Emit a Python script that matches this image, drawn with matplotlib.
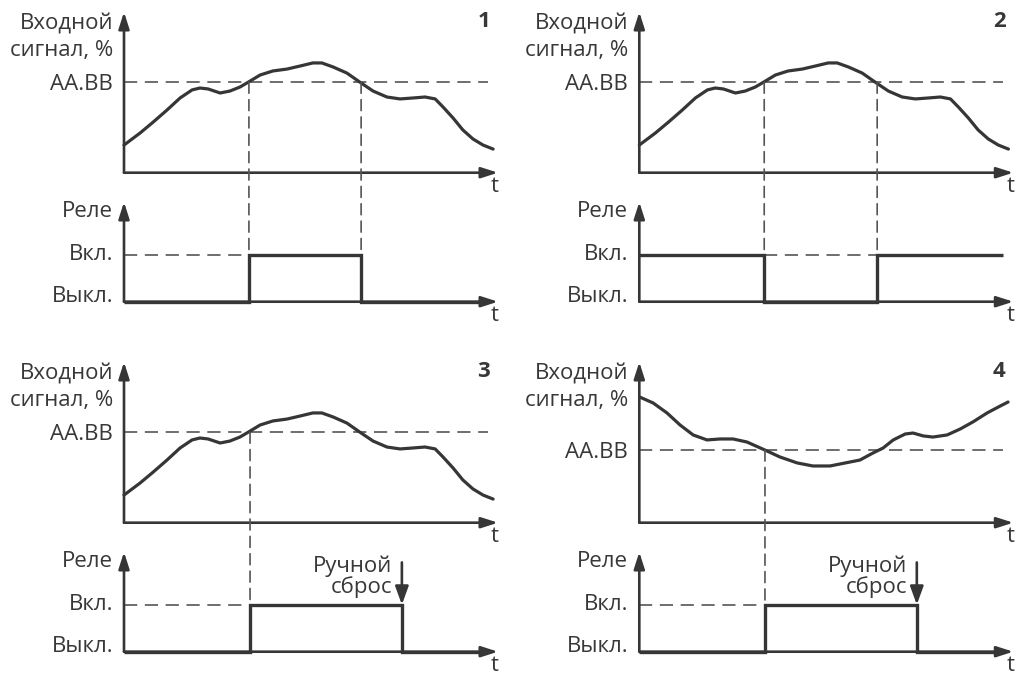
import matplotlib
matplotlib.use('Agg')
import matplotlib.pyplot as plt
from matplotlib.patches import ConnectionPatch
from matplotlib.transforms import offset_copy

plt.rcParams['font.family'] = ['Open Sans', 'DejaVu Sans']
plt.rcParams['lines.scale_dashes'] = False

# ---------------- data ----------------
# input signal used in panels 1-3 (time, %)
t_sig = [0, 4.3, 7.8, 11.5, 15.0, 18.2, 20.3, 22.5, 25.7, 28.3, 31.0, 33.2, 36.4,
         39.8, 43.6, 47.1, 50.5, 52.9, 55.9, 59.6, 63.1, 66.6, 70.3, 73.8, 77.3,
         80.5, 83.2, 85.3, 88.0, 90.6, 93.3, 96.0, 98.7]
v_sig = [17.2, 24.7, 31.5, 39.0, 46.5, 51.5, 52.7, 52.1, 49.6, 50.8, 53.3, 56.3, 60.8,
         63.3, 64.5, 66.4, 68.3, 68.3, 65.8, 62.0, 56.3, 50.8, 47.1, 45.9, 46.5,
         47.1, 45.9, 40.9, 34.0, 26.6, 21.0, 17.2, 14.7]
# input signal of panel 4
t_sig4 = [0.2, 3.7, 7.4, 10.9, 14.4, 18.1, 21.6, 25.1, 28.8, 33.6, 37.6, 42.2, 46.4,
          51.0, 53.6, 59.0, 62.5, 65.2, 67.9, 71.1, 73.2, 75.9, 78.5, 82.3, 85.8,
          89.2, 93.0, 96.5, 98.6]
v_sig4 = [78.1, 74.5, 68.3, 60.8, 54.6, 51.5, 52.1, 52.1, 50.2, 45.2, 40.9, 37.2, 35.3,
          35.3, 36.5, 39.0, 43.4, 46.5, 51.5, 55.2, 55.8, 54.0, 53.3, 54.6, 58.3,
          62.7, 68.3, 72.6, 75.1]
thresholds = [56.3, 56.3, 56.3, 45.2]
threshold_end = 97.3

# relay states: edges (time) and state values (0 = Выкл., 1 = Вкл.)
relay_edges = [[0, 33.4, 63.4, 97.0],
               [0, 33.4, 63.6, 97.3],
               [0, 33.7, 74.3, 97.0],
               [0, 33.6, 74.2, 97.0]]
relay_states = [[0, 1, 0], [1, 0, 1], [0, 1, 0], [0, 1, 0]]
# threshold crossings linked to relay switching
crossings = [[33.4, 63.4], [33.4, 63.6], [33.7], [33.6]]
# manual reset moments (None if absent)
manual_reset = [None, None, 74.3, 74.2]
panel_numbers = ['1', '2', '3', '4']

lbl_sig1 = 'Входной'
lbl_sig2 = 'сигнал, %'
lbl_thr = 'AA.BB'
lbl_relay = 'Реле'
lbl_on = 'Вкл.'
lbl_off = 'Выкл.'
lbl_t = 't'
lbl_reset1 = 'Ручной'
lbl_reset2 = 'сброс'

# ---------------- style ----------------
W, H = 1024, 687
FS = 16
TXT = '#383838'
LINE = '#363636'
DASH = '#555555'
PX = 0.72  # points per pixel at 100 dpi

fig = plt.figure(figsize=(W / 100, H / 100), dpi=100, facecolor='white')


def px_axes(x0, y0, x1, y1):
    return fig.add_axes([x0 / W, 1 - y1 / H, (x1 - x0) / W, (y1 - y0) / H])


def draw_axes_arrows(ax):
    ax.axis('off')
    style = '-|>,head_length=0.5,head_width=0.16'
    for tip in [(0, 1), (1, 0)]:
        ax.annotate('', xy=tip, xytext=(0, 0), xycoords='axes fraction',
                    textcoords='axes fraction',
                    arrowprops=dict(arrowstyle=style, lw=1.9, color=LINE,
                                    shrinkA=0, shrinkB=0, mutation_scale=20))


def ylabel_text(ax, text, y, **kw):
    tr = offset_copy(ax.get_yaxis_transform(), fig=fig, x=-11 * PX, y=0, units='points')
    ax.text(0, y, text, transform=tr, ha='right', va='baseline', fontsize=FS,
            color=TXT, **kw)


def t_label(ax):
    tr = offset_copy(ax.transAxes, fig=fig, x=-3 * PX, y=-19 * PX, units='points')
    ax.text(1, 0, lbl_t, transform=tr, ha='center', va='baseline', fontsize=FS, color=TXT)


dxs = [0, 515.3, 0, 515.3]
dys = [0, 0, 350, 350]
RELAY_TOP = 99.7 / 47.0

for i in range(4):
    dx, dy = dxs[i], dys[i]
    axs = px_axes(124 + dx, 12 + dy, 498 + dx, 172.7 + dy)
    axr = px_axes(124 + dx, 202 + dy, 498 + dx, 301.7 + dy)
    for a in (axs, axr):
        a.set_xlim(0, 100)
    axs.set_ylim(0, 100)
    axr.set_ylim(0, RELAY_TOP)
    draw_axes_arrows(axs)
    draw_axes_arrows(axr)

    thr = thresholds[i]
    tt, vv = (t_sig4, v_sig4) if i == 3 else (t_sig, v_sig)

    # threshold line
    axs.plot([0, threshold_end], [thr, thr], color=DASH, lw=1.2,
             dashes=(9.5, 5.5), clip_on=False, zorder=1)
    # signal
    axs.plot(tt, vv, color=LINE, lw=2.3, clip_on=False, zorder=3,
             solid_capstyle='round', solid_joinstyle='round')

    # relay dashed "on" reference where relay is off before switching on
    edges = relay_edges[i]
    states = relay_states[i]
    for k, s in enumerate(states):
        if s == 0 and k + 1 < len(states) and states[k + 1] == 1:
            axr.plot([edges[k], edges[k + 1]], [1, 1], color=DASH, lw=1.2,
                     dashes=(9.5, 5.5), clip_on=False, zorder=1)
    # relay line
    axr.stairs(states, edges, baseline=None, color=LINE, lw=2.4, zorder=3,
               clip_on=False)

    # vertical dashed links
    for tc in crossings[i]:
        con = ConnectionPatch(xyA=(tc, thr), coordsA=axs.transData,
                              xyB=(tc, 1), coordsB=axr.transData,
                              color=DASH, lw=1.2, linestyle=(0, (9.5 / 1.2, 5.5 / 1.2)),
                              zorder=1)
        fig.add_artist(con)

    # labels
    ylabel_text(axs, lbl_sig1, 89.2)
    ylabel_text(axs, lbl_sig2, 72.6)
    thr_tr = offset_copy(axs.get_yaxis_transform(), fig=fig, x=-11 * PX,
                         y=-7.5 * PX, units='points')
    axs.text(0, thr, lbl_thr, transform=thr_tr, ha='right', va='baseline',
             fontsize=FS, color=TXT)
    ylabel_text(axr, lbl_relay, 1.81)
    ylabel_text(axr, lbl_on, 0.89)
    ylabel_text(axr, lbl_off, 0.0)
    t_label(axs)
    t_label(axr)
    axs.text(97.9, 90.7, panel_numbers[i], ha='right', va='baseline', fontsize=FS,
             fontweight='bold', color=TXT)

    # manual reset arrow
    if manual_reset[i] is not None:
        tr = manual_reset[i]
        axr.annotate('', xy=(tr, 1.0), xytext=(tr, 1.9),
                     arrowprops=dict(arrowstyle='-|>,head_length=0.55,head_width=0.2',
                                     lw=1.9, color=LINE, shrinkA=0, shrinkB=0,
                                     mutation_scale=20), annotation_clip=False)
        trr = offset_copy(axr.transData, fig=fig, x=-10 * PX, y=0, units='points')
        axr.text(tr, 1.69, lbl_reset1, transform=trr, ha='right', va='baseline',
                 fontsize=FS, color=TXT)
        axr.text(tr, 1.25, lbl_reset2, transform=trr, ha='right', va='baseline',
                 fontsize=FS, color=TXT)

fig.savefig('out.png', dpi=100, facecolor='white')
